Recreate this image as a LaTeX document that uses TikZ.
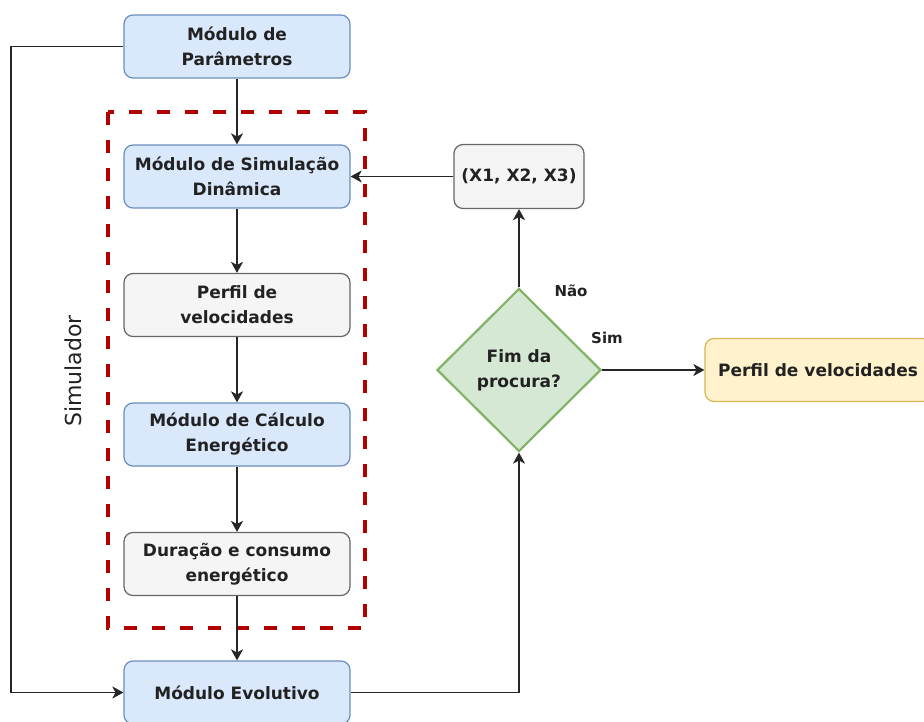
\documentclass[tikz,border=0pt]{standalone}
\usepackage{fontspec}
\setmainfont{DejaVu Sans}
\usetikzlibrary{shapes.geometric,arrows.meta}
\definecolor{bluef}{HTML}{DAE8FC}
\definecolor{blued}{HTML}{6C8EBF}
\definecolor{grayf}{HTML}{F5F5F5}
\definecolor{grayd}{HTML}{666666}
\definecolor{greenf}{HTML}{D5E8D4}
\definecolor{greend}{HTML}{82B366}
\definecolor{yellf}{HTML}{FFF2CC}
\definecolor{yelld}{HTML}{D6B656}
\definecolor{redd}{HTML}{B20000}
\definecolor{txt}{HTML}{222222}
\tikzset{
  box/.style={draw, rounded corners=9pt, line width=1.2pt, minimum width=226pt, minimum height=63pt,
    align=center, text=txt, font=\fontsize{17}{25}\selectfont\bfseries, inner sep=0pt},
  bluebox/.style={box, fill=bluef, draw=blued},
  graybox/.style={box, fill=grayf, draw=grayd},
  yellbox/.style={box, fill=yellf, draw=yelld},
  decision/.style={diamond, draw=greend, fill=greenf, line width=2.2pt, minimum width=164pt, minimum height=163pt,
    inner sep=0pt, align=center, text=txt, font=\fontsize{17}{25}\selectfont\bfseries},
  arr/.style={draw=black!85, line width=1.4pt, -{Stealth[length=11pt,width=12pt,inset=3pt]}},
  lbl/.style={text=txt, font=\fontsize{15}{18}\selectfont\bfseries, inner sep=0pt},
}
\begin{document}
\begin{tikzpicture}[x=1pt,y=-1pt]
\useasboundingbox (0,0) rectangle (924,722);
\clip (0,0) rectangle (924,722);
% dashed simulator frame
\draw[redd, line width=4pt, dash pattern=on 13pt off 15pt] (108,112) rectangle (365,628);
\node[rotate=90, text=txt, font=\fontsize{22}{26}\selectfont, inner sep=0pt] (simlbl) at (73,371) {Simulador};
% nodes
\node[bluebox] (par) at (237,46.5) {Módulo de\\Parâmetros};
\node[bluebox] (sim) at (237,176.5) {Módulo de Simulação\\Dinâmica};
\node[graybox] (perf) at (237,305) {Perfil de\\velocidades};
\node[bluebox] (calc) at (237,434.5) {Módulo de Cálculo\\Energético};
\node[graybox] (dur) at (237,564) {Duração e consumo\\energético};
\node[bluebox] (evo) at (237,692.5) {Módulo Evolutivo};
\node[graybox, minimum width=130pt, minimum height=64pt] (xs) at (519,176.5) {(X1, X2, X3)};
\node[decision] (dia) at (519,370) {Fim da\\procura?};
\node[yellbox] (res) at (818,370) {Perfil de velocidades};
\coordinate (lft) at (11,0);
% connectors
\draw[arr] (par) -- (sim);
\draw[arr] (sim) -- (perf);
\draw[arr] (perf) -- (calc);
\draw[arr] (calc) -- (dur);
\draw[arr] (dur) -- (evo);
\draw[arr] (par.west) -- (par.west -| lft) |- (evo.west);
\draw[arr] (evo.east) -| (dia.south);
\draw[arr] (dia.north) -- (xs.south);
\draw[arr] (xs.west) -- (sim.east);
\draw[arr] (dia.east) -- (res.west);
\node[lbl] (nao) at (571,291) {Não};
\node[lbl] (simn) at (607,338) {Sim};
\end{tikzpicture}
\end{document}
